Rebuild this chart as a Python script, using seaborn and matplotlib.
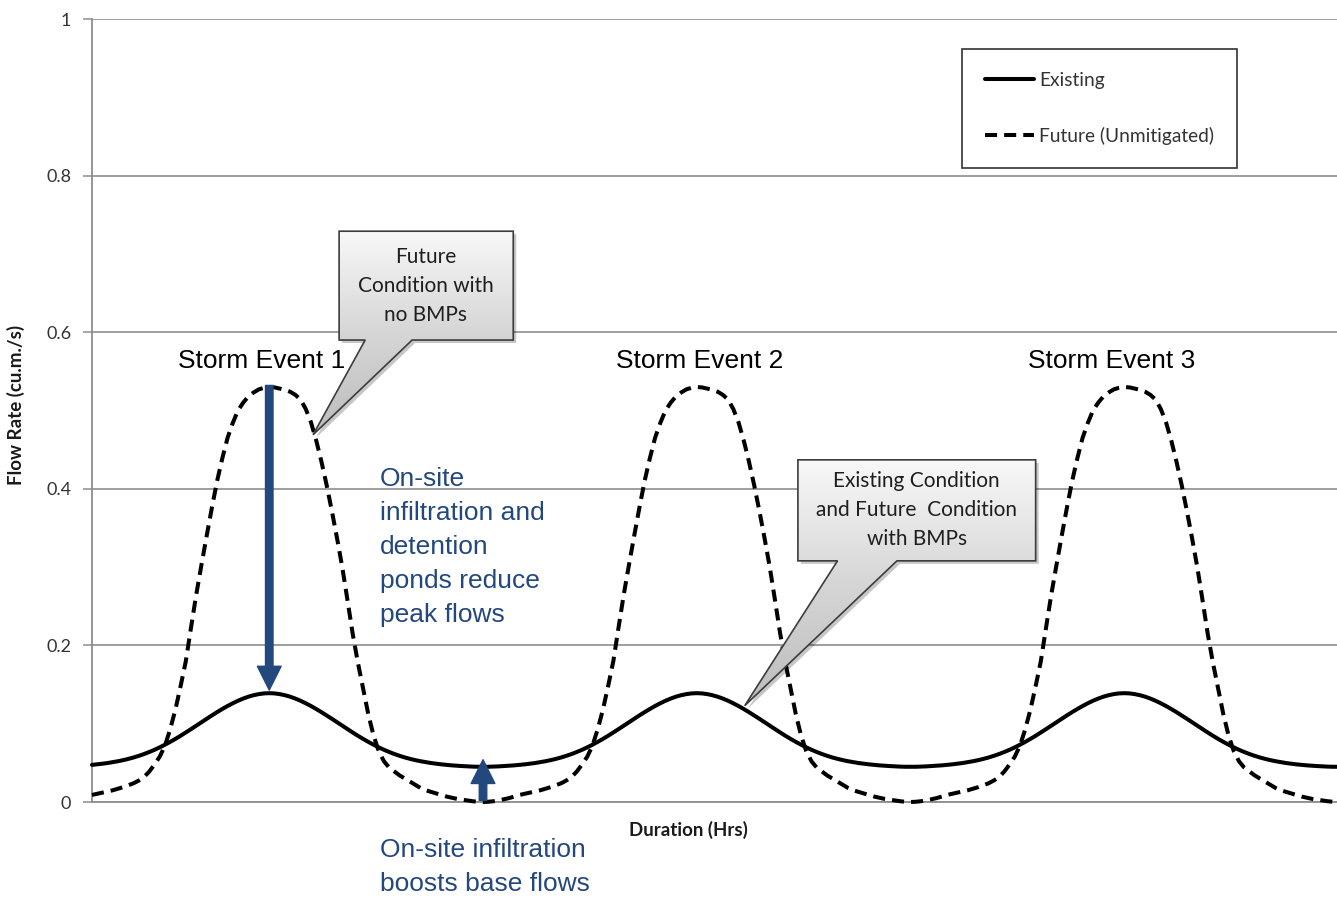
import numpy as np
import pandas as pd
import seaborn as sns
import matplotlib
matplotlib.use("Agg")
from matplotlib import pyplot as plt
from matplotlib.patches import Polygon, FancyArrowPatch
from matplotlib.colors import LinearSegmentedColormap
from matplotlib.transforms import offset_copy
import matplotlib.ticker as plticker

# Hydrograph, one value every half hour
hours = list(np.arange(0, 120.5, 0.5))
existing = [
    # event 1 rise
    0.0474, 0.0481, 0.0489, 0.0498, 0.0509, 0.0521, 0.0535, 0.0551, 0.0569, 0.0590,
    0.0613, 0.0639, 0.0667, 0.0698, 0.0732, 0.0768, 0.0806, 0.0846, 0.0888, 0.0931,
    0.0975, 0.1019, 0.1063, 0.1106, 0.1148, 0.1188, 0.1226, 0.1261, 0.1293, 0.1321,
    0.1345, 0.1364, 0.1378, 0.1387, 0.139,
    # event 1 recession
    0.1387, 0.1378, 0.1364, 0.1345, 0.1321, 0.1293, 0.1261, 0.1226, 0.1188, 0.1148,
    0.1106, 0.1063, 0.1019, 0.0975, 0.0931, 0.0888, 0.0846, 0.0806, 0.0768, 0.0732,
    0.0698, 0.0667, 0.0639, 0.0613, 0.0590, 0.0569, 0.0551, 0.0535, 0.0521, 0.0509,
    0.0498, 0.0489, 0.0481, 0.0474, 0.0468, 0.0463, 0.0459, 0.0455, 0.0452, 0.0450,
    0.0450,
    # event 2 rise
    0.0450, 0.0452, 0.0455, 0.0459, 0.0463, 0.0468, 0.0474, 0.0481, 0.0489, 0.0498,
    0.0509, 0.0521, 0.0535, 0.0551, 0.0569, 0.0590, 0.0613, 0.0639, 0.0667, 0.0698,
    0.0732, 0.0768, 0.0806, 0.0846, 0.0888, 0.0931, 0.0975, 0.1019, 0.1063, 0.1106,
    0.1148, 0.1188, 0.1226, 0.1261, 0.1293, 0.1321, 0.1345, 0.1364, 0.1378, 0.1387,
    0.139,
    # event 2 recession
    0.1387, 0.1378, 0.1364, 0.1345, 0.1321, 0.1293, 0.1261, 0.1226, 0.1188, 0.1148,
    0.1106, 0.1063, 0.1019, 0.0975, 0.0931, 0.0888, 0.0846, 0.0806, 0.0768, 0.0732,
    0.0698, 0.0667, 0.0639, 0.0613, 0.0590, 0.0569, 0.0551, 0.0535, 0.0521, 0.0509,
    0.0498, 0.0489, 0.0481, 0.0474, 0.0468, 0.0463, 0.0459, 0.0455, 0.0452, 0.0450,
    0.0450,
    # event 3 rise
    0.0450, 0.0452, 0.0455, 0.0459, 0.0463, 0.0468, 0.0474, 0.0481, 0.0489, 0.0498,
    0.0509, 0.0521, 0.0535, 0.0551, 0.0569, 0.0590, 0.0613, 0.0639, 0.0667, 0.0698,
    0.0732, 0.0768, 0.0806, 0.0846, 0.0888, 0.0931, 0.0975, 0.1019, 0.1063, 0.1106,
    0.1148, 0.1188, 0.1226, 0.1261, 0.1293, 0.1321, 0.1345, 0.1364, 0.1378, 0.1387,
    0.139,
    # event 3 recession
    0.1387, 0.1378, 0.1364, 0.1345, 0.1321, 0.1293, 0.1261, 0.1226, 0.1188, 0.1148,
    0.1106, 0.1063, 0.1019, 0.0975, 0.0931, 0.0888, 0.0846, 0.0806, 0.0768, 0.0732,
    0.0698, 0.0667, 0.0639, 0.0613, 0.0590, 0.0569, 0.0551, 0.0535, 0.0521, 0.0509,
    0.0498, 0.0489, 0.0481, 0.0474, 0.0468, 0.0463, 0.0459, 0.0455, 0.0452, 0.0450,
    0.0450, 0.0450,
]
future = [
    # event 1 rise
    0.009, 0.0105, 0.012, 0.0135, 0.015, 0.017, 0.019, 0.0215, 0.024, 0.0275,
    0.032, 0.039, 0.048, 0.058, 0.072, 0.093, 0.118, 0.148, 0.180, 0.223,
    0.265, 0.303, 0.340, 0.376, 0.410, 0.439, 0.465, 0.484, 0.500, 0.510,
    0.518, 0.523, 0.527, 0.529, 0.530,
    # event 1 recession
    0.5295, 0.528, 0.5265, 0.524, 0.520, 0.514, 0.502, 0.485, 0.462, 0.435,
    0.405, 0.372, 0.337, 0.300, 0.258, 0.215, 0.178, 0.145, 0.112, 0.085,
    0.065, 0.052, 0.044, 0.039, 0.034, 0.030, 0.026, 0.022, 0.018, 0.015,
    0.013, 0.011, 0.009, 0.007, 0.0055, 0.004, 0.003, 0.002, 0.001, 0.0003,
    0.000,
    # event 2 rise
    0.0003, 0.001, 0.002, 0.0035, 0.005, 0.007, 0.009, 0.0105, 0.012, 0.0135,
    0.015, 0.017, 0.019, 0.0215, 0.024, 0.0275, 0.032, 0.039, 0.048, 0.058,
    0.072, 0.093, 0.118, 0.148, 0.180, 0.223, 0.265, 0.303, 0.340, 0.376,
    0.410, 0.439, 0.465, 0.484, 0.500, 0.510, 0.518, 0.523, 0.527, 0.529,
    0.530,
    # event 2 recession
    0.5295, 0.528, 0.5265, 0.524, 0.520, 0.514, 0.502, 0.485, 0.462, 0.435,
    0.405, 0.372, 0.337, 0.300, 0.258, 0.215, 0.178, 0.145, 0.112, 0.085,
    0.065, 0.052, 0.044, 0.039, 0.034, 0.030, 0.026, 0.022, 0.018, 0.015,
    0.013, 0.011, 0.009, 0.007, 0.0055, 0.004, 0.003, 0.002, 0.001, 0.0003,
    0.000,
    # event 3 rise
    0.0003, 0.001, 0.002, 0.0035, 0.005, 0.007, 0.009, 0.0105, 0.012, 0.0135,
    0.015, 0.017, 0.019, 0.0215, 0.024, 0.0275, 0.032, 0.039, 0.048, 0.058,
    0.072, 0.093, 0.118, 0.148, 0.180, 0.223, 0.265, 0.303, 0.340, 0.376,
    0.410, 0.439, 0.465, 0.484, 0.500, 0.510, 0.518, 0.523, 0.527, 0.529,
    0.530,
    # event 3 recession
    0.5295, 0.528, 0.5265, 0.524, 0.520, 0.514, 0.502, 0.485, 0.462, 0.435,
    0.405, 0.372, 0.337, 0.300, 0.258, 0.215, 0.178, 0.145, 0.112, 0.085,
    0.065, 0.052, 0.044, 0.039, 0.034, 0.030, 0.026, 0.022, 0.018, 0.015,
    0.013, 0.011, 0.009, 0.007, 0.0055, 0.004, 0.003, 0.002, 0.001, 0.0003,
    0.000, 0.000,
]
series_names = ["Existing", "Future (Unmitigated)"]
yticks = [0, 0.2, 0.4, 0.6, 0.8, 1]
storm_labels = ["Storm Event 1", "Storm Event 2", "Storm Event 3"]
storm_x = [16.3, 58.3, 97.8]

assert len(hours) == len(existing) == len(future), (len(hours), len(existing), len(future))

BLUE = "#23487e"
GRID = "#8e8e8e"


def draw_callout(ax, box, base, tip, text, text_xy, fontsize):
    x0, x1, y0, y1 = box
    verts = [(x0, y1), (x1, y1), (x1, y0), (base[1], y0), tip, (base[0], y0), (x0, y0)]
    fig = ax.figure
    shadow = Polygon(verts, closed=True, fc="black", ec="none", alpha=0.22, zorder=5,
                     transform=offset_copy(ax.transData, fig=fig, x=3, y=-3, units="dots"))
    ax.add_patch(shadow)
    outline = Polygon(verts, closed=True, fc="none", ec="#3c3c3c", lw=1.2, zorder=7)
    ax.add_patch(outline)
    cmap = LinearSegmentedColormap.from_list("callout", ["#f8f8f8", "#d6d6d6", "#bcbcbc"])
    grad = np.linspace(0, 1, 256).reshape(-1, 1)
    im = ax.imshow(grad, cmap=cmap, origin="upper", aspect="auto", interpolation="bilinear",
                   extent=(min(x0, tip[0]), max(x1, tip[0]), min(y0, tip[1]), y1), zorder=6)
    im.set_clip_path(outline)
    ax.text(text_xy[0], text_xy[1], text, ha="center", va="center", fontsize=fontsize,
            family="Lato", color="#1e1e1e", linespacing=1.55, zorder=8)


def block_arrow(ax, start, end):
    arrow = FancyArrowPatch(start, end, shrinkA=0, shrinkB=0, mutation_scale=18,
                            arrowstyle="simple,head_width=0.95,head_length=0.95,tail_width=0.3",
                            color=BLUE, zorder=9)
    ax.add_patch(arrow)


def plot_data(filename):
    sns.set_theme(style="white")
    plt.rcParams["font.family"] = ["Lato", "DejaVu Sans"]

    fig = plt.figure(figsize=(13.37, 8.98), dpi=100)
    ax = fig.add_axes([0.0688, 0.1069, 0.9312, 0.87194])

    sns.lineplot(x=hours, y=existing, color="black", lw=2.9, label=series_names[0],
                 ax=ax, clip_on=False, zorder=3)
    sns.lineplot(x=hours, y=future, color="black", lw=2.9, ls=(0, (3.0, 1.75)),
                 label=series_names[1], ax=ax, clip_on=False, zorder=3)

    # Axes styling
    ax.set_xlim(0, 119.4)
    ax.set_ylim(0, 1)
    ax.set_yticks(yticks)
    ax.yaxis.set_major_formatter(plticker.FuncFormatter(lambda v, p: "%g" % v))
    ax.yaxis.grid(True, color=GRID, lw=1.2)
    ax.xaxis.grid(False)
    ax.set_axisbelow(True)
    for side in ["top", "right"]:
        ax.spines[side].set_visible(False)
    for side in ["left", "bottom"]:
        ax.spines[side].set_color(GRID)
        ax.spines[side].set_linewidth(1.3)
    ax.tick_params(axis="y", left=True, length=6.5, width=1.1, color=GRID, pad=8.5,
                   labelsize=13, labelcolor="#333333")
    ax.tick_params(axis="x", bottom=False, labelbottom=False)

    ax.set_xlabel("Duration (Hrs)", fontsize=13.5, fontweight="bold", color="#1a1a1a")
    ax.xaxis.set_label_coords(0.479, -0.024)
    ax.set_ylabel("Flow Rate (cu.m./s)", fontsize=13.5, fontweight="bold", color="#1a1a1a")
    ax.yaxis.set_label_coords(-0.054, 0.507)

    # Legend
    leg = ax.legend(loc="upper left", bbox_to_anchor=(0.6988, 0.9617), borderaxespad=0,
                    frameon=True, fancybox=False, edgecolor="black", handlelength=2.6,
                    handletextpad=0.26, labelspacing=2.0, borderpad=1.18,
                    prop={"family": "Lato", "size": 13.8})
    leg.get_frame().set_linewidth(1.2)
    for t in leg.get_texts():
        t.set_color("#333333")

    # Storm labels
    for lx, lab in zip(storm_x, storm_labels):
        ax.text(lx, 0.563, lab, ha="center", va="center", fontsize=19,
                family="Liberation Sans", color="black", zorder=8)

    # Blue arrows and notes
    peak_i = future.index(max(future))
    block_arrow(ax, (hours[peak_i], future[peak_i] + 0.002), (hours[peak_i], existing[peak_i] + 0.004))
    trough_i = future.index(0.000)
    block_arrow(ax, (hours[trough_i], 0.002), (hours[trough_i], existing[trough_i] + 0.009))
    ax.text(27.6, 0.326, "On-site\ninfiltration and\ndetention\nponds reduce\npeak flows",
            ha="left", va="center", fontsize=19, family="Liberation Sans", color=BLUE,
            linespacing=1.53, zorder=8)
    ax.text(27.6, -0.083, "On-site infiltration\nboosts base flows", ha="left", va="center",
            fontsize=19, family="Liberation Sans", color=BLUE, linespacing=1.53,
            clip_on=False, zorder=8)

    # Callouts
    draw_callout(ax, (23.7, 40.4, 0.590, 0.729), (26.2, 30.7), (21.2, 0.469),
                 "Future\nCondition with\nno BMPs", (32.0, 0.659), 15)
    draw_callout(ax, (67.7, 90.5, 0.308, 0.437), (71.5, 77.2), (62.6, 0.123),
                 "Existing Condition\nand Future  Condition\nwith BMPs", (79.1, 0.373), 15)

    ax.set_xlim(0, 119.4)
    ax.set_ylim(0, 1)
    plt.savefig(filename, dpi=100)
    print("Figure saved.")


plot_data("out.png")
